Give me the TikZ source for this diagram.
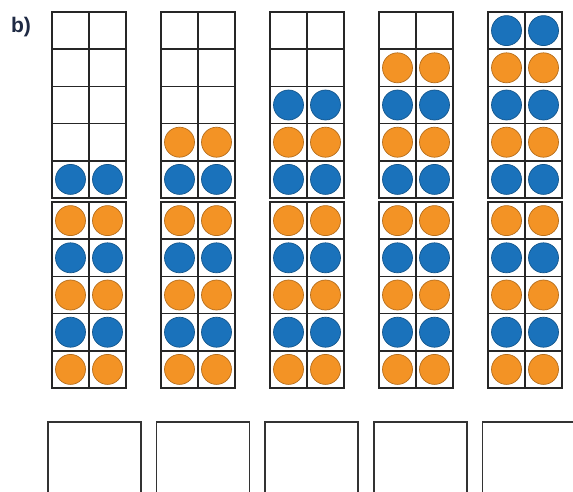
\documentclass[tikz,border=0pt]{standalone}
\usepackage{fontspec}
\setsansfont{Liberation Sans}
\definecolor{counterblue}{HTML}{1A72BB}
\definecolor{counterorange}{HTML}{F39325}
\definecolor{labelink}{HTML}{1F2A44}
\newcommand{\cellh}{37.2}

\begin{document}
\begin{tikzpicture}[
  x=0.02cm,
  y=-0.02cm,
  every node/.style={font=\sffamily\bfseries\fontsize{12}{14}\selectfont, labelink},
  frameline/.style={black!85, line width=1pt},
  counter/.style={line width=0.4pt},
  answerbox/.style={black!80, line width=1pt}
]
  % ---- page: 573 x 491, white, cut at the bottom and right edge ---------
  \fill[white] (0,0) rectangle (573,491);
  \useasboundingbox (0,0) rectangle (573,491);
  \clip (0,0) rectangle (573,491);

  % ---- part label ------------------------------------------------------
  \node[anchor=center, inner sep=0pt] (partlabel) at (21,27) {b)};

  % ---- five double ten-frames, each one row fuller than the last --------
  \foreach \c in {0,...,4} {
    \pgfmathsetmacro{\colx}{52+109*\c}
    \pgfmathtruncatemacro{\filled}{6+\c}

    % counters, counted up from the bottom cell: odd orange, even blue
    \foreach \k in {1,...,\filled} {
      \pgfmathsetmacro{\rowy}{\k<=5 ? 388-\cellh*(\k-0.5) : 198-\cellh*(\k-5.5)}
      \ifodd\k\def\ccol{counterorange}\else\def\ccol{counterblue}\fi
      \filldraw[counter, fill=\ccol, draw=\ccol!75!black]
        (\colx+18.5,\rowy) circle (0.3cm);
      \filldraw[counter, fill=\ccol, draw=\ccol!75!black]
        (\colx+55.5,\rowy) circle (0.3cm);
    }

    % upper and lower frame, 2 x 5 cells each
    \foreach \fy in {12,202} {
      \draw[frameline] (\colx,\fy) rectangle ++(74,5*\cellh);
      \draw[frameline] (\colx+37,\fy) -- ++(0,5*\cellh);
      \foreach \r in {1,...,4}
        \draw[frameline] (\colx,\fy+\r*\cellh) -- ++(74,0);
    }
  }

  % ---- answer boxes, running off the page ------------------------------
  \foreach \b in {0,...,4}
    \draw[answerbox] (48+108.6*\b,422) rectangle ++(93,90);

\end{tikzpicture}
\end{document}
